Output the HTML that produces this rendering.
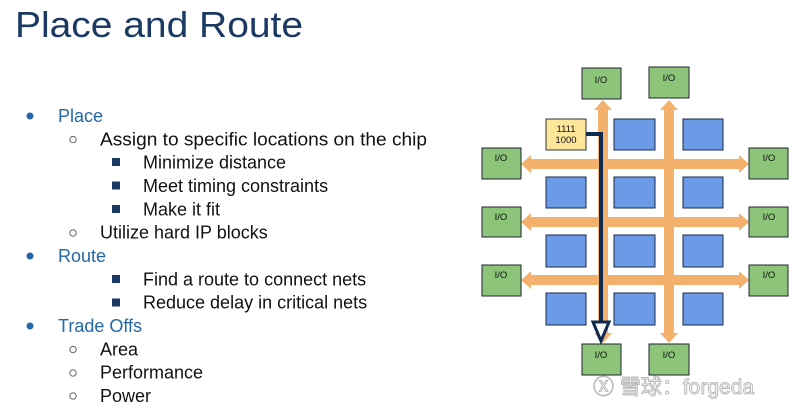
<!DOCTYPE html>
<html><head><meta charset="utf-8"><style>
html,body{margin:0;padding:0;background:#fff;}
svg{display:block;}
text{font-family:"Liberation Sans",Arial,sans-serif;}
</style></head><body>
<svg width="800" height="411" viewBox="0 0 800 411" xmlns="http://www.w3.org/2000/svg">
<text x="15" y="37" font-size="36" fill="#1b3a63" textLength="288" lengthAdjust="spacingAndGlyphs">Place and Route</text>
<g font-size="18" fill="#111">
<circle cx="30" cy="116" r="3.5" fill="#2468a8"/>
<text x="58" y="122" fill="#2468a8">Place</text>
<circle cx="73" cy="139.5" r="3.2" fill="none" stroke="#555" stroke-width="0.9"/>
<text x="100" y="145.3" textLength="327" lengthAdjust="spacingAndGlyphs">Assign to specific locations on the chip</text>
<rect x="112" y="158" width="8" height="8" fill="#1b3a63"/>
<text x="143" y="168.7">Minimize distance</text>
<rect x="112" y="181.5" width="8" height="8" fill="#1b3a63"/>
<text x="143" y="192">Meet timing constraints</text>
<rect x="112" y="205" width="8" height="8" fill="#1b3a63"/>
<text x="143" y="215.3">Make it fit</text>
<circle cx="73" cy="233" r="3.2" fill="none" stroke="#555" stroke-width="0.9"/>
<text x="100" y="238.7">Utilize hard IP blocks</text>
<circle cx="30" cy="256" r="3.5" fill="#2468a8"/>
<text x="58" y="262" fill="#2468a8">Route</text>
<rect x="112" y="275" width="8" height="8" fill="#1b3a63"/>
<text x="143" y="285.3">Find a route to connect nets</text>
<rect x="112" y="298.5" width="8" height="8" fill="#1b3a63"/>
<text x="143" y="308.7">Reduce delay in critical nets</text>
<circle cx="30" cy="326" r="3.5" fill="#2468a8"/>
<text x="58" y="332" fill="#2468a8">Trade Offs</text>
<circle cx="73" cy="349.5" r="3.2" fill="none" stroke="#555" stroke-width="0.9"/>
<text x="100" y="355.3">Area</text>
<circle cx="73" cy="373" r="3.2" fill="none" stroke="#555" stroke-width="0.9"/>
<text x="100" y="378.7">Performance</text>
<circle cx="73" cy="396" r="3.2" fill="none" stroke="#555" stroke-width="0.9"/>
<text x="100" y="402">Power</text>
</g>
<g fill="#f4b16e">
<g id="h">
<rect x="530" y="159" width="211" height="10"/>
<polygon points="521,164 531,155 531,173"/>
<polygon points="749,164 739,155 739,173"/>
</g>
<use href="#h" y="58"/>
<use href="#h" y="116"/>
<rect x="598" y="108" width="10" height="226"/>
<polygon points="603,100 594,110 612,110"/>
<polygon points="603,343 594,333 612,333"/>
<rect x="664" y="108" width="10" height="226"/>
<polygon points="669,100 660,110 678,110"/>
<polygon points="669,343 660,333 678,333"/>
</g>
<g fill="#6b9be6" stroke="#1a2a4a" stroke-width="1">
<rect x="614" y="119" width="41" height="31"/><rect x="683" y="119" width="40" height="31"/>
<rect x="546" y="177" width="40" height="31"/><rect x="614" y="177" width="41" height="31"/><rect x="683" y="177" width="40" height="31"/>
<rect x="546" y="235" width="40" height="32"/><rect x="614" y="235" width="41" height="32"/><rect x="683" y="235" width="40" height="32"/>
<rect x="546" y="293" width="40" height="32"/><rect x="614" y="293" width="41" height="32"/><rect x="683" y="293" width="40" height="32"/>
</g>
<rect x="546" y="119" width="40" height="31" fill="#fde59a" stroke="#333" stroke-width="1"/>
<text x="566" y="132" font-size="9.5" text-anchor="middle" fill="#111">1111</text>
<text x="566" y="143" font-size="9.5" text-anchor="middle" fill="#111">1000</text>
<g fill="#8cc57a" stroke="#223" stroke-width="1">
<rect x="582" y="68" width="39" height="31"/><rect x="649" y="67" width="40" height="31"/>
<rect x="482" y="148" width="39" height="31"/><rect x="482" y="207" width="39" height="30"/><rect x="482" y="265" width="39" height="31"/>
<rect x="749" y="148" width="39" height="31"/><rect x="749" y="207" width="39" height="30"/><rect x="749" y="265" width="39" height="31"/>
<rect x="582" y="344" width="39" height="31"/><rect x="649" y="344" width="40" height="31"/>
</g>
<g font-size="9.5" fill="#111" text-anchor="middle">
<text x="601" y="83">I/O</text><text x="669" y="81">I/O</text>
<text x="501" y="161">I/O</text><text x="501" y="220">I/O</text><text x="501" y="278">I/O</text>
<text x="769" y="161">I/O</text><text x="769" y="220">I/O</text><text x="769" y="278">I/O</text>
<text x="601" y="358">I/O</text><text x="669" y="358">I/O</text>
</g>
<polyline points="586,134 601,134 601,322" fill="none" stroke="#0e2a4f" stroke-width="4"/>
<polygon points="593,322 609,322 601,341" fill="#fff" stroke="#0e2a4f" stroke-width="3"/>
<text x="593" y="394" font-size="21" fill="#fff" stroke="#bbb" stroke-width="1" font-family="'Liberation Sans','Noto Sans CJK SC',sans-serif">Ⓧ 雪球：forgeda</text>
</svg>
</body></html>
